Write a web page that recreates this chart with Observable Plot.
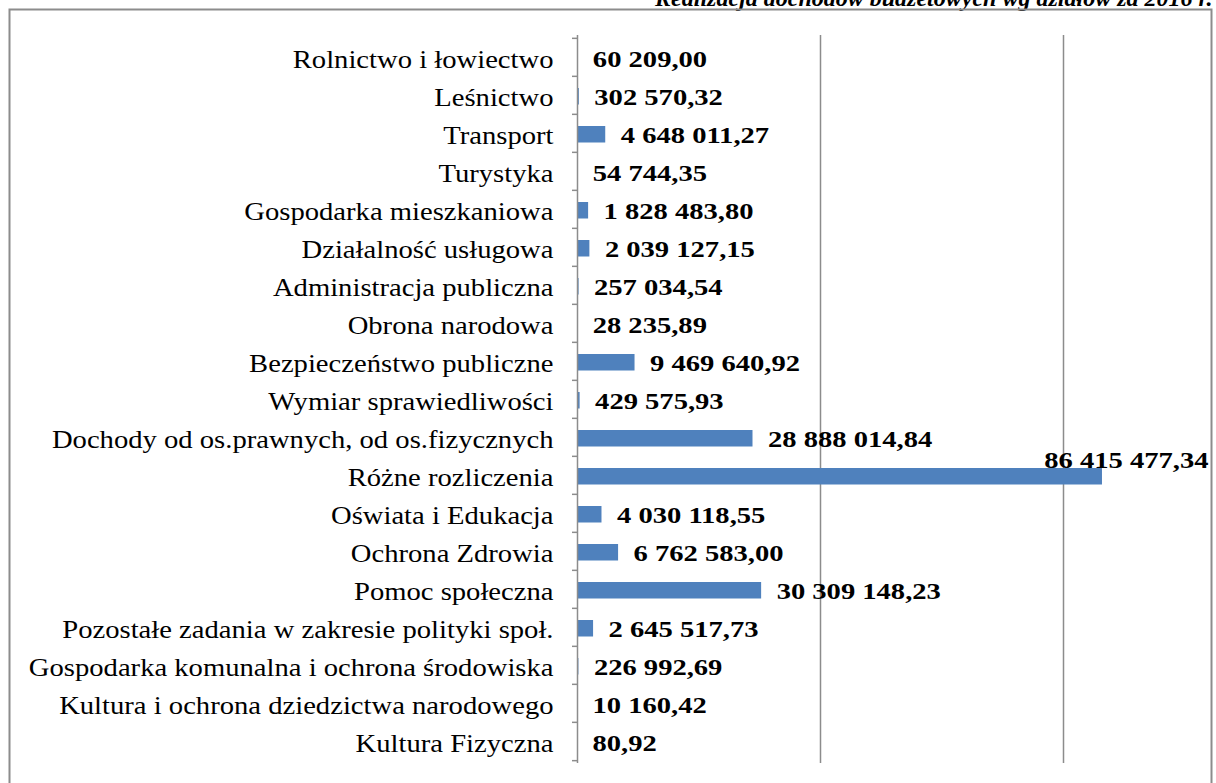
<!DOCTYPE html>
<html>
<head>
<meta charset="utf-8">
<script src="https://cdn.jsdelivr.net/npm/d3@7"></script>
<script src="https://cdn.jsdelivr.net/npm/@observablehq/plot@0.6"></script>
<style>
  html, body { margin: 0; padding: 0; background: white; }
</style>
</head>
<body>
<div id="chart"></div>
<script>
const title = "Realizacja dochodów budżetowych wg działów za 2016 r.";
const categories = [
  "Rolnictwo i łowiectwo",
  "Leśnictwo",
  "Transport",
  "Turystyka",
  "Gospodarka mieszkaniowa",
  "Działalność usługowa",
  "Administracja publiczna",
  "Obrona narodowa",
  "Bezpieczeństwo publiczne",
  "Wymiar sprawiedliwości",
  "Dochody od os.prawnych, od os.fizycznych",
  "Różne rozliczenia",
  "Oświata i Edukacja",
  "Ochrona Zdrowia",
  "Pomoc społeczna",
  "Pozostałe zadania w zakresie polityki społ.",
  "Gospodarka komunalna i ochrona środowiska",
  "Kultura i ochrona dziedzictwa narodowego",
  "Kultura Fizyczna"
];
const values = [
  60209.00, 302570.32, 4648011.27, 54744.35, 1828483.80, 2039127.15,
  257034.54, 28235.89, 9469640.92, 429575.93, 28888014.84, 86415477.34,
  4030118.55, 6762583.00, 30309148.23, 2645517.73, 226992.69, 10160.42, 80.92
];
const gridTicks = [40e6, 80e6];

const data = categories.map((c, i) => ({category: c, value: values[i]}));

function fmt(v) {
  const [int, dec] = v.toFixed(2).split(".");
  return int.replace(/\B(?=(\d{3})+(?!\d))/g, " ") + "," + dec;
}

const H = 783, MT = 35, MB = 20;
const bw = (H - MT - MB) / categories.length;
const last = categories[categories.length - 1];

const chart = Plot.plot({
  width: 1216,
  height: H,
  marginLeft: 577,
  marginRight: 31.5,
  marginTop: MT,
  marginBottom: MB,
  x: {domain: [0, 100e6], axis: null},
  y: {domain: categories, axis: null, padding: 0, label: null},
  style: {fontFamily: "'Liberation Serif', 'Times New Roman', serif", fontSize: "24px", color: "#000", background: "white", overflow: "visible"},
  marks: [
    Plot.gridX(gridTicks, {stroke: "#8c8c8c", strokeOpacity: 1, strokeWidth: 1.5}),
    Plot.barX(data, {x: "value", y: "category", fill: "#4F81BD", insetTop: 12, insetBottom: 9.5}),
    Plot.ruleX([0], {stroke: "#8c8c8c", strokeWidth: 1.5}),
    Plot.axisY({tickSize: 5, tickFormat: () => "", label: null, dy: -bw / 2, stroke: "#8c8c8c", strokeWidth: 1.5}),
    Plot.axisY({ticks: [last], tickSize: 5, tickFormat: () => "", label: null, dy: bw / 2, stroke: "#8c8c8c", strokeWidth: 1.5}),
    Plot.axisY({tickSize: 0, tickPadding: 24, label: null, dy: 2, fontSize: 25, fill: "#000", textStroke: "none", className: "cat-labels"}),
    Plot.text(data.filter(d => d.value < 80e6), {
      x: "value", y: "category", text: d => fmt(d.value),
      textAnchor: "start", dx: 15, dy: 1.5, fontWeight: "bold", fontSize: 24, fill: "#000"
    }),
    Plot.text(data.filter(d => d.value >= 80e6), {
      x: "value", y: "category", text: d => fmt(d.value),
      textAnchor: "end", dx: 106, dy: -15.5, fontWeight: "bold", fontSize: 24, fill: "#000"
    }),
    Plot.text([title], {
      frameAnchor: "top-right", textAnchor: "end", lineAnchor: "bottom",
      dx: 27.5, dy: -30, fontWeight: "bold", fontStyle: "italic", fontSize: 24, fill: "#000",
      className: "chart-title"
    })
  ]
});

document.getElementById("chart").appendChild(chart);

const svg = d3.select(chart);
// outer chart border
svg.append("rect")
  .attr("x", 9.5).attr("y", 9.5)
  .attr("width", 1202).attr("height", 800)
  .attr("fill", "none").attr("stroke", "#8c8c8c").attr("stroke-width", 2);

// horizontal stretch of text to match reference
svg.selectAll("text").each(function() {
  if (this.closest(".chart-title")) return;
  const k = this.closest(".cat-labels") ? 1.145 : 1.19;
  const len = this.getComputedTextLength();
  if (len > 0) {
    this.setAttribute("textLength", len * k);
    this.setAttribute("lengthAdjust", "spacingAndGlyphs");
  }
});
</script>
</body>
</html>
